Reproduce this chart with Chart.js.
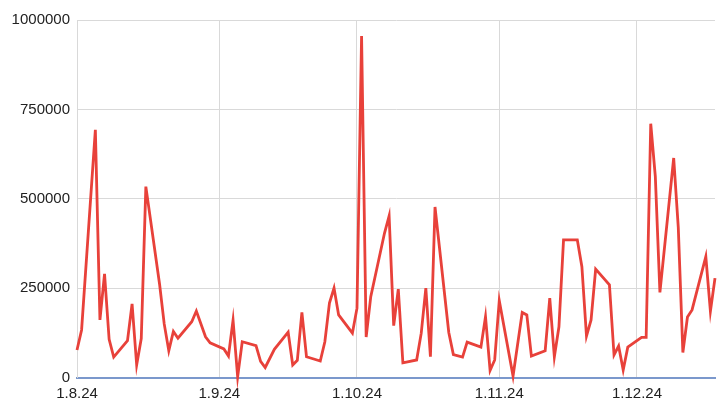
<!DOCTYPE html>
<html>
<head>
<meta charset="utf-8">
<script src="https://cdn.jsdelivr.net/npm/chart.js@4.4.1/dist/chart.umd.min.js"></script>
<style>
  html, body { margin: 0; padding: 0; background: #fff; }
  #wrap { width: 722px; height: 412px; position: relative; }
</style>
</head>
<body>
<div id="wrap"><canvas id="volChart"></canvas></div>
<script>
/* Data: day offsets from 1.8.24 and the value */
const days = [
  0, 1, 4, 5, 6, 7, 8, 11, 12, 13, 14, 15, 18, 19, 20, 21, 22, 25, 26, 28,
  29, 32, 33, 34, 35, 36, 39, 40, 41, 43, 46, 47, 48, 49, 50, 53, 54, 55, 56, 57,
  60, 61, 62, 63, 64, 67, 68, 69, 70, 71, 74, 75, 76, 77, 78, 81, 82, 84, 85, 88,
  89, 90, 91, 92, 95, 97, 98, 99, 102, 103, 104, 105, 106, 109, 110, 111, 112, 113, 116, 117,
  118, 119, 120, 123, 124, 125, 126, 127, 130, 131, 132, 133, 134, 137, 138, 139
];
const values = [
  77000, 133000, 693000, 161000, 290000, 107000, 57000, 103000, 206000, 35000,
  109000, 534000, 260000, 150000, 75000, 129000, 110000, 156000, 186000, 114000,
  97000, 80000, 60000, 160000, 2000, 100000, 89000, 45000, 28000, 79000,
  127000, 35000, 48000, 182000, 58000, 46000, 100000, 208000, 250000, 175000,
  124000, 194000, 955000, 113000, 226000, 404000, 452000, 145000, 247000, 41000,
  49000, 124000, 250000, 58000, 477000, 126000, 64000, 57000, 99000, 85000,
  170000, 20000, 49000, 215000, 4000, 182000, 175000, 60000, 75000, 222000,
  58000, 142000, 385000, 385000, 310000, 116000, 161000, 303000, 259000, 63000,
  88000, 21000, 85000, 112000, 112000, 710000, 562000, 238000, 614000, 420000,
  70000, 169000, 189000, 338000, 185000, 278000
];
const monthTicks = [0, 31, 61, 92, 122];
const monthLabels = ['1.8.24', '1.9.24', '1.10.24', '1.11.24', '1.12.24'];
const yTicks = [0, 250000, 500000, 750000, 1000000];

/* Styling */
const FONT = { family: '"Liberation Sans", Arial, sans-serif', size: 15 };
const GRID = '#d9d9d9';

const points = days.map((d, i) => ({ x: d, y: values[i] }));

new Chart(document.getElementById('volChart'), {
  type: 'line',
  data: {
    datasets: [
      { data: points, borderColor: '#e8413a', borderWidth: 2.8, pointRadius: 0, tension: 0, fill: false, clip: false }
    ]
  },
  options: {
    responsive: true, maintainAspectRatio: false, animation: false,
    layout: { padding: { top: 20, right: 7, bottom: 0, left: 0 } },
    plugins: { legend: { display: false }, tooltip: { enabled: false } },
    scales: {
      x: {
        type: 'linear', min: 0, max: days[days.length - 1],
        afterBuildTicks: (s) => { s.ticks = monthTicks.map(v => ({ value: v })); },
        afterFit: (s) => { s.height = 34.5; },
        ticks: {
          color: '#222', font: FONT, padding: 7, maxRotation: 0, autoSkip: false,
          callback: (v) => monthLabels[monthTicks.indexOf(v)] ?? ''
        },
        grid: { color: GRID, lineWidth: 1, drawTicks: false },
        border: { color: '#7b98cc', width: 2 }
      },
      y: {
        min: 0, max: 1000000,
        afterBuildTicks: (s) => { s.ticks = yTicks.map(v => ({ value: v })); },
        afterFit: (s) => { s.width = 77; },
        ticks: { color: '#222', font: FONT, padding: 7, callback: (v) => String(v) },
        grid: { color: GRID, lineWidth: 1, drawTicks: false },
        border: { color: GRID, width: 1 }
      }
    }
  }
});
</script>
</body>
</html>
